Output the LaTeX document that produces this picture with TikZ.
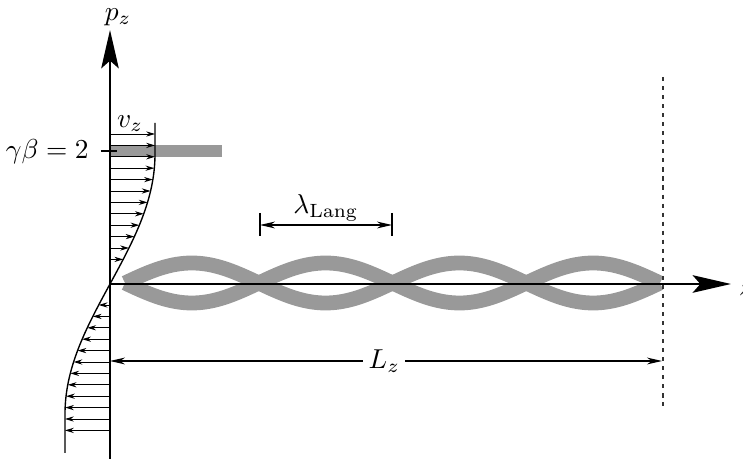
\documentclass[tikz,border=0pt]{standalone}
\usetikzlibrary{arrows.meta}
\begin{document}
\begin{tikzpicture}[x=0.365pt,y=-0.365pt,
  axisline/.style={line width=0.8pt,-{Stealth[length=14pt,width=6.4pt,inset=2.8pt]}},
  velarrow/.style={line width=0.35pt,-{Stealth[length=3.2pt,width=1.9pt]}},
  dimarrow/.style={line width=0.4pt,{Stealth[length=5.5pt,width=2.5pt]}-{Stealth[length=5.5pt,width=2.5pt]}},
  lobe/.style={line width=5.4pt,draw=black!40},
  dimbar/.style={line width=0.4pt}]
\useasboundingbox (0,0) rectangle (743,459);
% named coordinates
\coordinate (O) at (110,284);
\coordinate (ytop) at (110,30);
\coordinate (ybot) at (110,459);
\coordinate (xend) at (731,284);
\coordinate (barL) at (110,145);
\coordinate (barR) at (222,157);
\coordinate (tickL) at (101,151);
\coordinate (tickR) at (117,151);
\coordinate (dashT) at (663,77);
\coordinate (dashB) at (663,406);
\coordinate (lamL) at (260,225);
\coordinate (lamR) at (392,225);
\coordinate (LzL) at (110,361);
\coordinate (LzR) at (662,361);
% lobes
\draw[lobe] plot[domain=125:660,samples=200] (\x,{283-20*sin((\x-125)*1.3458)});
\draw[lobe] plot[domain=125:660,samples=200] (\x,{283+20*sin((\x-125)*1.3458)});
% gray bar
\fill[black!40] (barL) rectangle (barR);
% velocity arrows
\foreach \k in {0,...,11} {
  \pgfmathsetmacro{\yy}{134+11.4*\k}
  \pgfmathsetmacro{\xx}{110+45*sin(max(min((284-\yy)*0.6923,90),-90))}
  \draw[velarrow] (110,\yy) -- (\xx,\yy);
}
\foreach \k in {15,...,26} {
  \pgfmathsetmacro{\yy}{134+11.4*\k}
  \pgfmathsetmacro{\xx}{110+45*sin(max(min((284-\yy)*0.6923,90),-90))}
  \draw[velarrow] (110,\yy) -- (\xx,\yy);
}
% velocity profile
\draw[line width=0.5pt] plot[domain=-169:161,samples=120] ({110+45*sin(max(min(\x*0.6923,90),-90))},{284-\x});
% axes
\draw[axisline] (ybot) -- (ytop);
\draw[axisline] (O) -- (xend);
\draw[line width=1pt] (tickL) -- (tickR);
% labels
\node (pz) at (118,17) {$p_z$};
\node (zl) at (746,290) {$z$};
\node[anchor=east,inner sep=1pt] (gb) at (92,152) {$\gamma\beta = 2$};
\node (vz) at (130,124) {$v_z$};
% dashed line
\draw[line width=0.45pt,dash pattern=on 1.5pt off 1.8pt,black!80] (dashT) -- (dashB);
% lambda dimension
\draw[dimbar] (260,213) -- (260,236);
\draw[dimbar] (392,213) -- (392,236);
\draw[dimarrow] (lamL) -- (lamR);
\node (lam) at (326,208) {$\lambda_{\mathrm{Lang}}$};
% Lz dimension
\draw[dimarrow] (LzL) -- (LzR) node[pos=0.497,fill=white,inner sep=2pt] (Lz) {$L_z$};
\end{tikzpicture}
\end{document}
